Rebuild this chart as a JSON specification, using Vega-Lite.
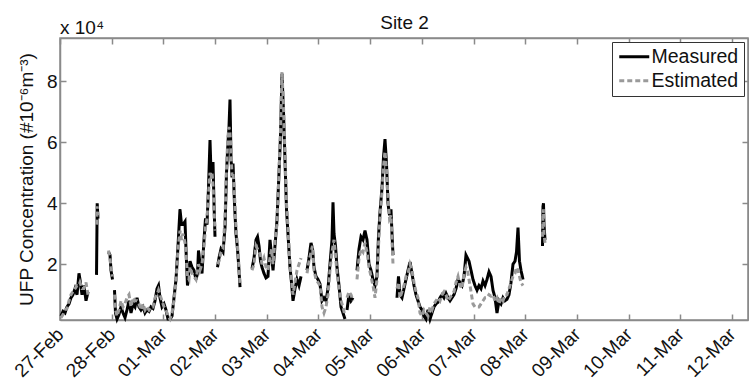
{
  "$schema": "https://vega.github.io/schema/vega-lite/v6.json",
  "autosize": "none",
  "width": 688,
  "height": 282,
  "padding": {"left": 60, "top": 38, "right": 1, "bottom": 63},
  "background": "white",
  "title": {"text": "x 10⁴", "anchor": "start", "frame": "group", "fontSize": 19, "fontWeight": "normal", "offset": -25, "color": "#111"},
  "config": {
    "font": "Liberation Sans",
    "view": {"stroke": "#8a8a8a", "strokeWidth": 1.5},
    "axis": {"domainColor": "#8a8a8a", "domainWidth": 1.5, "tickColor": "#8a8a8a", "tickWidth": 1.5, "labelColor": "#111", "titleColor": "#111", "grid": false, "labelFont": "Liberation Sans", "titleFont": "Liberation Sans"},
    "legend": {"orient": "top-right", "offset": 4, "strokeColor": "#333", "fillColor": "white", "padding": 5, "labelFontSize": 19.5, "labelColor": "#111", "symbolType": "M-1,0H3", "symbolSize": 225, "symbolStrokeWidth": 3, "rowPadding": 3, "labelOffset": 15, "title": null}
  },
  "data": {"values": [
    {"t":"2013-02-27T00:28","seg":1,"measured":0.3,"estimated":0.25},
    {"t":"2013-02-27T01:24","seg":1,"measured":0.45,"estimated":0.35},
    {"t":"2013-02-27T02:19","seg":1,"measured":0.4,"estimated":0.5},
    {"t":"2013-02-27T03:15","seg":1,"measured":0.6,"estimated":0.55},
    {"t":"2013-02-27T04:11","seg":1,"measured":0.7,"estimated":0.8},
    {"t":"2013-02-27T05:06","seg":1,"measured":0.9,"estimated":1.0},
    {"t":"2013-02-27T06:02","seg":1,"measured":1.0,"estimated":1.1},
    {"t":"2013-02-27T06:58","seg":1,"measured":1.2,"estimated":1.2},
    {"t":"2013-02-27T07:54","seg":1,"measured":1.0,"estimated":1.3},
    {"t":"2013-02-27T08:49","seg":1,"measured":1.7,"estimated":1.3},
    {"t":"2013-02-27T09:17","seg":1,"measured":1.5,"estimated":1.4},
    {"t":"2013-02-27T10:13","seg":1,"measured":1.0,"estimated":1.2},
    {"t":"2013-02-27T11:08","seg":1,"measured":1.3,"estimated":1.2},
    {"t":"2013-02-27T12:04","seg":1,"measured":0.8,"estimated":1.4},
    {"t":"2013-02-27T13:00","seg":1,"measured":1.1,"estimated":1.0},
    {"t":"2013-02-27T16:57","seg":2,"measured":1.65,"estimated":3.3},
    {"t":"2013-02-27T17:16","seg":2,"measured":4.0,"estimated":3.9},
    {"t":"2013-02-27T17:38","seg":2,"measured":3.5,"estimated":3.6},
    {"t":"2013-02-27T22:31","seg":3,"measured":2.4,"estimated":2.45},
    {"t":"2013-02-27T23:13","seg":3,"measured":2.3,"estimated":2.2},
    {"t":"2013-02-27T23:40","seg":3,"measured":1.8,"estimated":1.9},
    {"t":"2013-02-28T00:22","seg":3,"measured":1.5,"estimated":1.6},
    {"t":"2013-02-28T01:18","seg":4,"measured":1.15,"estimated":1.0},
    {"t":"2013-02-28T01:46","seg":4,"measured":0.4,"estimated":0.5},
    {"t":"2013-02-28T02:28","seg":4,"measured":0.2,"estimated":0.3},
    {"t":"2013-02-28T03:23","seg":4,"measured":0.35,"estimated":0.5},
    {"t":"2013-02-28T04:19","seg":4,"measured":0.6,"estimated":0.8},
    {"t":"2013-02-28T05:15","seg":4,"measured":0.4,"estimated":0.6},
    {"t":"2013-02-28T06:10","seg":4,"measured":0.25,"estimated":0.7},
    {"t":"2013-02-28T07:06","seg":4,"measured":0.5,"estimated":0.9},
    {"t":"2013-02-28T08:02","seg":4,"measured":0.8,"estimated":1.0},
    {"t":"2013-02-28T08:58","seg":4,"measured":0.4,"estimated":0.6},
    {"t":"2013-02-28T09:53","seg":4,"measured":0.7,"estimated":0.9},
    {"t":"2013-02-28T10:49","seg":4,"measured":0.6,"estimated":0.8},
    {"t":"2013-02-28T11:45","seg":4,"measured":0.9,"estimated":0.8},
    {"t":"2013-02-28T12:40","seg":4,"measured":0.6,"estimated":0.7},
    {"t":"2013-02-28T13:36","seg":4,"measured":0.5,"estimated":0.5},
    {"t":"2013-02-28T14:32","seg":4,"measured":0.6,"estimated":0.7},
    {"t":"2013-02-28T15:28","seg":4,"measured":0.4,"estimated":0.5},
    {"t":"2013-02-28T16:23","seg":4,"measured":0.5,"estimated":0.6},
    {"t":"2013-02-28T17:19","seg":4,"measured":0.45,"estimated":0.5},
    {"t":"2013-02-28T18:15","seg":4,"measured":0.6,"estimated":0.6},
    {"t":"2013-02-28T19:10","seg":4,"measured":0.55,"estimated":0.6},
    {"t":"2013-02-28T20:06","seg":4,"measured":0.8,"estimated":0.9},
    {"t":"2013-02-28T21:02","seg":4,"measured":1.2,"estimated":1.0},
    {"t":"2013-02-28T21:44","seg":4,"measured":1.3,"estimated":1.15},
    {"t":"2013-02-28T22:25","seg":4,"measured":0.9,"estimated":1.0},
    {"t":"2013-02-28T23:21","seg":4,"measured":0.6,"estimated":0.8},
    {"t":"2013-03-01T00:17","seg":4,"measured":0.7,"estimated":0.6},
    {"t":"2013-03-01T01:12","seg":4,"measured":0.5,"estimated":0.5},
    {"t":"2013-03-01T02:08","seg":4,"measured":0.2,"estimated":0.3},
    {"t":"2013-03-01T03:04","seg":4,"measured":0.2,"estimated":0.2},
    {"t":"2013-03-01T04:00","seg":4,"measured":0.3,"estimated":0.4},
    {"t":"2013-03-01T04:55","seg":4,"measured":0.9,"estimated":0.8},
    {"t":"2013-03-01T05:51","seg":4,"measured":1.5,"estimated":1.4},
    {"t":"2013-03-01T06:47","seg":4,"measured":2.6,"estimated":2.5},
    {"t":"2013-03-01T07:42","seg":4,"measured":3.8,"estimated":3.1},
    {"t":"2013-03-01T08:24","seg":4,"measured":3.3,"estimated":2.8},
    {"t":"2013-03-01T09:06","seg":4,"measured":3.3,"estimated":3.0},
    {"t":"2013-03-01T10:02","seg":4,"measured":3.4,"estimated":2.7},
    {"t":"2013-03-01T10:29","seg":4,"measured":2.5,"estimated":2.4},
    {"t":"2013-03-01T11:11","seg":4,"measured":1.3,"estimated":1.6},
    {"t":"2013-03-01T11:53","seg":4,"measured":1.8,"estimated":1.5},
    {"t":"2013-03-01T12:21","seg":4,"measured":2.1,"estimated":1.9},
    {"t":"2013-03-01T13:17","seg":4,"measured":1.9,"estimated":1.7},
    {"t":"2013-03-01T14:12","seg":4,"measured":1.8,"estimated":1.6},
    {"t":"2013-03-01T15:08","seg":4,"measured":1.5,"estimated":1.5},
    {"t":"2013-03-01T15:50","seg":4,"measured":1.7,"estimated":1.8},
    {"t":"2013-03-01T16:18","seg":4,"measured":2.45,"estimated":2.0},
    {"t":"2013-03-01T16:59","seg":4,"measured":2.0,"estimated":1.8},
    {"t":"2013-03-01T17:55","seg":4,"measured":1.7,"estimated":2.0},
    {"t":"2013-03-01T18:51","seg":4,"measured":2.8,"estimated":2.6},
    {"t":"2013-03-01T19:33","seg":4,"measured":3.5,"estimated":3.2},
    {"t":"2013-03-01T20:14","seg":4,"measured":3.3,"estimated":3.5},
    {"t":"2013-03-01T20:56","seg":4,"measured":4.5,"estimated":4.3},
    {"t":"2013-03-01T21:38","seg":4,"measured":6.07,"estimated":5.0},
    {"t":"2013-03-01T22:06","seg":4,"measured":5.0,"estimated":4.8},
    {"t":"2013-03-01T22:34","seg":4,"measured":5.2,"estimated":5.0},
    {"t":"2013-03-01T23:02","seg":4,"measured":5.35,"estimated":4.6},
    {"t":"2013-03-01T23:29","seg":4,"measured":4.0,"estimated":3.8},
    {"t":"2013-03-01T23:57","seg":4,"measured":2.9,"estimated":3.1},
    {"t":"2013-03-02T01:07","seg":5,"measured":1.9,"estimated":2.0},
    {"t":"2013-03-02T01:48","seg":5,"measured":2.2,"estimated":2.1},
    {"t":"2013-03-02T02:44","seg":5,"measured":2.5,"estimated":2.4},
    {"t":"2013-03-02T03:40","seg":5,"measured":2.4,"estimated":2.5},
    {"t":"2013-03-02T04:36","seg":5,"measured":3.2,"estimated":3.5},
    {"t":"2013-03-02T05:18","seg":5,"measured":5.0,"estimated":5.2},
    {"t":"2013-03-02T05:59","seg":5,"measured":6.0,"estimated":6.2},
    {"t":"2013-03-02T06:27","seg":5,"measured":6.5,"estimated":6.5},
    {"t":"2013-03-02T06:55","seg":5,"measured":7.4,"estimated":6.3},
    {"t":"2013-03-02T07:23","seg":5,"measured":5.5,"estimated":5.7},
    {"t":"2013-03-02T07:51","seg":5,"measured":4.85,"estimated":4.9},
    {"t":"2013-03-02T08:19","seg":5,"measured":5.3,"estimated":5.0},
    {"t":"2013-03-02T09:00","seg":5,"measured":4.0,"estimated":4.3},
    {"t":"2013-03-02T09:42","seg":5,"measured":3.0,"estimated":3.2},
    {"t":"2013-03-02T10:24","seg":5,"measured":2.5,"estimated":2.6},
    {"t":"2013-03-02T11:06","seg":5,"measured":1.8,"estimated":1.9},
    {"t":"2013-03-02T11:34","seg":5,"measured":1.25,"estimated":1.35},
    {"t":"2013-03-02T17:08","seg":6,"measured":1.85,"estimated":1.8},
    {"t":"2013-03-02T18:04","seg":6,"measured":2.2,"estimated":2.0},
    {"t":"2013-03-02T18:59","seg":6,"measured":2.8,"estimated":2.6},
    {"t":"2013-03-02T19:41","seg":6,"measured":2.9,"estimated":2.5},
    {"t":"2013-03-02T20:23","seg":6,"measured":2.6,"estimated":2.4},
    {"t":"2013-03-02T21:05","seg":6,"measured":2.1,"estimated":2.3},
    {"t":"2013-03-02T21:46","seg":6,"measured":1.9,"estimated":2.0},
    {"t":"2013-03-02T22:42","seg":6,"measured":1.7,"estimated":2.2},
    {"t":"2013-03-02T23:38","seg":6,"measured":1.55,"estimated":1.9},
    {"t":"2013-03-03T00:33","seg":6,"measured":1.6,"estimated":1.8},
    {"t":"2013-03-03T01:29","seg":6,"measured":2.8,"estimated":2.2},
    {"t":"2013-03-03T02:11","seg":6,"measured":2.3,"estimated":2.5},
    {"t":"2013-03-03T02:53","seg":6,"measured":1.8,"estimated":2.0},
    {"t":"2013-03-03T03:48","seg":6,"measured":2.6,"estimated":2.8},
    {"t":"2013-03-03T04:44","seg":6,"measured":3.45,"estimated":3.3},
    {"t":"2013-03-03T05:40","seg":6,"measured":5.0,"estimated":5.0},
    {"t":"2013-03-03T06:22","seg":6,"measured":6.2,"estimated":6.4},
    {"t":"2013-03-03T07:03","seg":6,"measured":8.25,"estimated":8.3},
    {"t":"2013-03-03T07:45","seg":6,"measured":7.0,"estimated":7.2},
    {"t":"2013-03-03T08:27","seg":6,"measured":5.4,"estimated":5.6},
    {"t":"2013-03-03T09:09","seg":6,"measured":3.8,"estimated":4.0},
    {"t":"2013-03-03T09:50","seg":6,"measured":3.0,"estimated":3.2},
    {"t":"2013-03-03T10:46","seg":6,"measured":1.9,"estimated":2.0},
    {"t":"2013-03-03T11:28","seg":6,"measured":1.4,"estimated":1.5},
    {"t":"2013-03-03T12:10","seg":6,"measured":0.8,"estimated":1.0},
    {"t":"2013-03-03T13:05","seg":6,"measured":1.2,"estimated":1.4},
    {"t":"2013-03-03T14:01","seg":6,"measured":1.5,"estimated":1.8},
    {"t":"2013-03-03T14:57","seg":6,"measured":1.3,"estimated":2.0},
    {"t":"2013-03-03T15:53","seg":6,"measured":1.6,"estimated":2.2},
    {"t":"2013-03-03T18:40","seg":7,"measured":1.8,"estimated":1.7},
    {"t":"2013-03-03T19:35","seg":7,"measured":2.2,"estimated":2.1},
    {"t":"2013-03-03T20:31","seg":7,"measured":2.7,"estimated":2.4},
    {"t":"2013-03-03T21:13","seg":7,"measured":2.5,"estimated":2.6},
    {"t":"2013-03-03T21:55","seg":7,"measured":1.9,"estimated":1.8},
    {"t":"2013-03-03T22:50","seg":7,"measured":1.6,"estimated":1.5},
    {"t":"2013-03-03T23:46","seg":7,"measured":1.5,"estimated":1.4},
    {"t":"2013-03-04T00:42","seg":7,"measured":1.35,"estimated":1.3},
    {"t":"2013-03-04T01:38","seg":7,"measured":0.8,"estimated":0.6},
    {"t":"2013-03-04T02:33","seg":7,"measured":0.9,"estimated":0.4},
    {"t":"2013-03-04T03:29","seg":7,"measured":0.8,"estimated":0.6},
    {"t":"2013-03-04T04:25","seg":7,"measured":1.2,"estimated":1.0},
    {"t":"2013-03-04T05:20","seg":7,"measured":2.0,"estimated":1.8},
    {"t":"2013-03-04T06:16","seg":7,"measured":2.8,"estimated":2.4},
    {"t":"2013-03-04T06:44","seg":7,"measured":4.03,"estimated":2.6},
    {"t":"2013-03-04T07:12","seg":7,"measured":3.0,"estimated":2.8},
    {"t":"2013-03-04T07:54","seg":7,"measured":2.6,"estimated":2.3},
    {"t":"2013-03-04T08:35","seg":7,"measured":1.9,"estimated":1.7},
    {"t":"2013-03-04T09:31","seg":7,"measured":1.3,"estimated":1.2},
    {"t":"2013-03-04T10:27","seg":7,"measured":0.6,"estimated":0.8},
    {"t":"2013-03-04T11:22","seg":7,"measured":0.4,"estimated":0.6},
    {"t":"2013-03-04T12:18","seg":7,"measured":0.2,"estimated":0.3},
    {"t":"2013-03-04T13:14","seg":8,"measured":0.5,"estimated":0.9},
    {"t":"2013-03-04T14:10","seg":8,"measured":1.0,"estimated":1.1},
    {"t":"2013-03-04T15:05","seg":8,"measured":0.8,"estimated":1.0},
    {"t":"2013-03-04T16:01","seg":8,"measured":0.9,"estimated":0.8},
    {"t":"2013-03-04T17:52","seg":9,"measured":1.8,"estimated":1.5},
    {"t":"2013-03-04T18:48","seg":9,"measured":2.5,"estimated":2.2},
    {"t":"2013-03-04T19:44","seg":9,"measured":2.9,"estimated":2.5},
    {"t":"2013-03-04T20:40","seg":9,"measured":2.8,"estimated":2.4},
    {"t":"2013-03-04T21:35","seg":9,"measured":3.1,"estimated":2.7},
    {"t":"2013-03-04T22:31","seg":9,"measured":2.8,"estimated":2.4},
    {"t":"2013-03-04T23:27","seg":9,"measured":2.0,"estimated":1.9},
    {"t":"2013-03-05T00:22","seg":9,"measured":1.8,"estimated":1.6},
    {"t":"2013-03-05T01:18","seg":9,"measured":1.5,"estimated":1.3},
    {"t":"2013-03-05T02:14","seg":9,"measured":1.3,"estimated":0.9},
    {"t":"2013-03-05T03:09","seg":9,"measured":1.6,"estimated":1.5},
    {"t":"2013-03-05T03:51","seg":9,"measured":2.9,"estimated":2.6},
    {"t":"2013-03-05T04:33","seg":9,"measured":3.7,"estimated":3.5},
    {"t":"2013-03-05T05:29","seg":9,"measured":4.5,"estimated":4.4},
    {"t":"2013-03-05T06:10","seg":9,"measured":5.5,"estimated":5.2},
    {"t":"2013-03-05T06:52","seg":9,"measured":6.1,"estimated":5.7},
    {"t":"2013-03-05T07:34","seg":9,"measured":5.3,"estimated":5.1},
    {"t":"2013-03-05T08:16","seg":9,"measured":4.0,"estimated":4.2},
    {"t":"2013-03-05T08:58","seg":9,"measured":3.6,"estimated":3.5},
    {"t":"2013-03-05T09:39","seg":9,"measured":3.8,"estimated":3.6},
    {"t":"2013-03-05T10:07","seg":9,"measured":3.0,"estimated":2.8},
    {"t":"2013-03-05T10:35","seg":9,"measured":2.3,"estimated":2.0},
    {"t":"2013-03-05T12:26","seg":10,"measured":0.9,"estimated":1.2},
    {"t":"2013-03-05T13:08","seg":10,"measured":1.6,"estimated":1.4},
    {"t":"2013-03-05T13:50","seg":10,"measured":1.0,"estimated":0.9},
    {"t":"2013-03-05T14:46","seg":10,"measured":0.9,"estimated":1.1},
    {"t":"2013-03-05T15:41","seg":10,"measured":1.2,"estimated":1.3},
    {"t":"2013-03-05T16:37","seg":10,"measured":1.5,"estimated":1.6},
    {"t":"2013-03-05T17:33","seg":10,"measured":1.8,"estimated":1.7},
    {"t":"2013-03-05T18:29","seg":10,"measured":2.07,"estimated":2.0},
    {"t":"2013-03-05T19:24","seg":10,"measured":1.7,"estimated":1.8},
    {"t":"2013-03-05T20:20","seg":10,"measured":1.3,"estimated":1.4},
    {"t":"2013-03-05T21:16","seg":10,"measured":1.0,"estimated":1.1},
    {"t":"2013-03-05T22:11","seg":10,"measured":0.8,"estimated":0.9},
    {"t":"2013-03-05T23:07","seg":10,"measured":0.6,"estimated":0.4},
    {"t":"2013-03-06T00:03","seg":10,"measured":0.5,"estimated":0.3},
    {"t":"2013-03-06T00:59","seg":10,"measured":0.3,"estimated":0.5},
    {"t":"2013-03-06T01:54","seg":10,"measured":0.2,"estimated":0.4},
    {"t":"2013-03-06T02:50","seg":10,"measured":0.5,"estimated":0.3},
    {"t":"2013-03-06T03:46","seg":10,"measured":0.2,"estimated":0.6},
    {"t":"2013-03-06T04:41","seg":10,"measured":0.4,"estimated":0.5},
    {"t":"2013-03-06T05:37","seg":10,"measured":0.6,"estimated":0.7},
    {"t":"2013-03-06T06:33","seg":10,"measured":0.7,"estimated":0.8},
    {"t":"2013-03-06T07:28","seg":10,"measured":0.75,"estimated":0.9},
    {"t":"2013-03-06T08:24","seg":10,"measured":0.9,"estimated":0.8},
    {"t":"2013-03-06T09:20","seg":10,"measured":1.0,"estimated":1.0},
    {"t":"2013-03-06T10:16","seg":10,"measured":0.9,"estimated":1.1},
    {"t":"2013-03-06T11:11","seg":10,"measured":1.05,"estimated":1.0},
    {"t":"2013-03-06T12:07","seg":10,"measured":0.9,"estimated":0.8},
    {"t":"2013-03-06T13:03","seg":10,"measured":0.8,"estimated":0.9},
    {"t":"2013-03-06T13:58","seg":10,"measured":0.9,"estimated":1.0},
    {"t":"2013-03-06T14:54","seg":10,"measured":1.0,"estimated":1.1},
    {"t":"2013-03-06T15:50","seg":10,"measured":1.2,"estimated":1.4},
    {"t":"2013-03-06T16:46","seg":10,"measured":1.5,"estimated":1.6},
    {"t":"2013-03-06T17:41","seg":10,"measured":1.4,"estimated":1.3},
    {"t":"2013-03-06T18:37","seg":10,"measured":1.3,"estimated":1.2},
    {"t":"2013-03-06T19:33","seg":10,"measured":1.6,"estimated":1.7},
    {"t":"2013-03-06T20:28","seg":10,"measured":2.3,"estimated":1.9},
    {"t":"2013-03-06T21:10","seg":10,"measured":2.2,"estimated":1.8},
    {"t":"2013-03-06T21:52","seg":10,"measured":2.1,"estimated":1.5},
    {"t":"2013-03-06T22:48","seg":10,"measured":1.8,"estimated":1.1},
    {"t":"2013-03-06T23:43","seg":10,"measured":1.5,"estimated":0.7},
    {"t":"2013-03-07T00:39","seg":10,"measured":1.3,"estimated":0.6},
    {"t":"2013-03-07T01:35","seg":10,"measured":1.15,"estimated":0.6},
    {"t":"2013-03-07T02:30","seg":10,"measured":1.3,"estimated":0.6},
    {"t":"2013-03-07T03:26","seg":10,"measured":1.2,"estimated":0.7},
    {"t":"2013-03-07T04:22","seg":10,"measured":1.45,"estimated":0.8},
    {"t":"2013-03-07T05:18","seg":10,"measured":1.3,"estimated":0.9},
    {"t":"2013-03-07T06:13","seg":10,"measured":1.5,"estimated":0.9},
    {"t":"2013-03-07T07:09","seg":10,"measured":1.75,"estimated":1.0},
    {"t":"2013-03-07T08:05","seg":10,"measured":1.6,"estimated":0.95},
    {"t":"2013-03-07T09:00","seg":10,"measured":1.15,"estimated":1.0},
    {"t":"2013-03-07T09:56","seg":10,"measured":0.9,"estimated":0.8},
    {"t":"2013-03-07T10:52","seg":10,"measured":0.4,"estimated":0.9},
    {"t":"2013-03-07T11:48","seg":10,"measured":0.8,"estimated":0.7},
    {"t":"2013-03-07T12:43","seg":10,"measured":0.7,"estimated":0.9},
    {"t":"2013-03-07T13:39","seg":10,"measured":0.9,"estimated":0.8},
    {"t":"2013-03-07T14:35","seg":10,"measured":0.8,"estimated":1.0},
    {"t":"2013-03-07T15:30","seg":10,"measured":0.85,"estimated":1.0},
    {"t":"2013-03-07T16:26","seg":10,"measured":1.0,"estimated":1.2},
    {"t":"2013-03-07T17:22","seg":10,"measured":1.4,"estimated":1.4},
    {"t":"2013-03-07T18:17","seg":10,"measured":2.0,"estimated":1.6},
    {"t":"2013-03-07T19:13","seg":10,"measured":2.1,"estimated":1.7},
    {"t":"2013-03-07T19:55","seg":10,"measured":2.4,"estimated":1.9},
    {"t":"2013-03-07T20:37","seg":10,"measured":3.2,"estimated":1.8},
    {"t":"2013-03-07T21:18","seg":10,"measured":2.1,"estimated":1.6},
    {"t":"2013-03-07T22:00","seg":10,"measured":1.8,"estimated":1.4},
    {"t":"2013-03-07T22:56","seg":10,"measured":1.5,"estimated":1.3},
    {"t":"2013-03-08T07:59","seg":11,"measured":2.6,"estimated":2.9},
    {"t":"2013-03-08T08:13","seg":11,"measured":3.9,"estimated":3.6},
    {"t":"2013-03-08T08:27","seg":11,"measured":4.0,"estimated":3.8},
    {"t":"2013-03-08T08:41","seg":11,"measured":3.3,"estimated":3.0},
    {"t":"2013-03-08T09:09","seg":11,"measured":2.8,"estimated":2.7}
  ]},
  "layer": [
    {
      "mark": {"type": "line", "strokeWidth": 3, "interpolate": "linear"},
      "encoding": {
        "x": {"field": "t", "type": "temporal",
          "scale": {"domain": [{"year": 2013, "month": "feb", "date": 27}, {"year": 2013, "month": "mar", "date": 12, "hours": 7, "minutes": 23}], "nice": false},
          "axis": {"orient": "bottom", "format": "%d-%b", "tickCount": {"interval": "day", "step": 1}, "labelAngle": -45, "labelAlign": "right", "labelBaseline": "middle", "labelFontSize": 19, "tickSize": -6, "labelPadding": 17, "title": null, "labelOverlap": false, "labelFlush": false}},
        "y": {"field": "measured", "type": "quantitative",
          "scale": {"domain": [0.17, 9.42], "nice": false, "zero": false},
          "axis": {"orient": "left", "values": [2, 4, 6, 8], "tickSize": -6, "labelPadding": 9, "labelFontSize": 19, "title": "UFP Concentration (#10⁻⁶m⁻³)", "titleFontSize": 19, "titleFontWeight": "normal", "titlePadding": 10}},
        "detail": {"field": "seg"},
        "color": {"datum": "Measured", "scale": {"domain": ["Measured", "Estimated"], "range": ["#000000", "#9a9a9a"]}},
        "strokeDash": {"datum": "Measured", "scale": {"domain": ["Measured", "Estimated"], "range": [[1, 0], [5, 3]]}}
      }
    },
    {
      "mark": {"type": "line", "strokeWidth": 3, "interpolate": "linear"},
      "encoding": {
        "x": {"field": "t", "type": "temporal",
          "axis": {"orient": "top", "tickCount": {"interval": "day", "step": 1}, "labels": false, "tickSize": -6, "title": "Site 2", "titleFontSize": 19, "titleFontWeight": "normal", "titlePadding": 5}},
        "y": {"field": "estimated", "type": "quantitative",
          "axis": {"orient": "right", "values": [2, 4, 6, 8], "labels": false, "tickSize": -6, "title": null}},
        "detail": {"field": "seg"},
        "color": {"datum": "Estimated"},
        "strokeDash": {"datum": "Estimated"}
      }
    }
  ]
}
